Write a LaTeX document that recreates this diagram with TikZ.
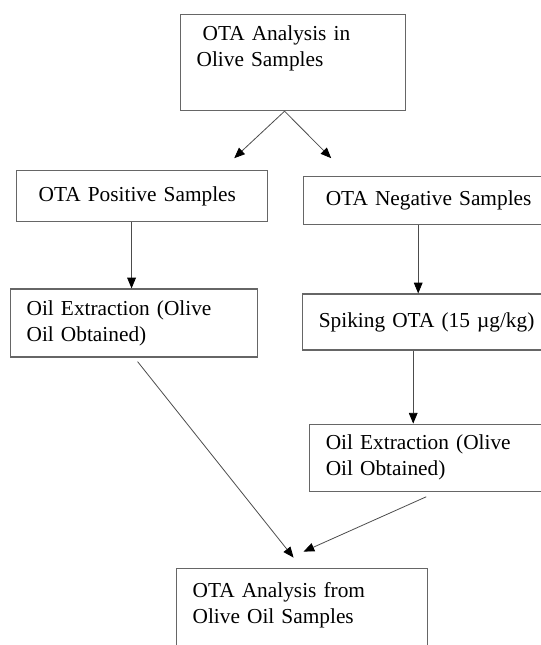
\documentclass[tikz,border=0pt]{standalone}
\usepackage{fontspec}
\setmainfont{Liberation Serif}
\usetikzlibrary{positioning,arrows.meta}

\begin{document}
\begin{tikzpicture}[
      block/.style = {rectangle, draw=black!60, line width=0.9pt,
                      align=left, inner xsep=12pt, inner ysep=0pt,
                      font=\fontsize{16pt}{19.5pt}\selectfont},
      arrow/.style = {-{Triangle[length=8pt,width=6.5pt,color=black]},
                      draw=black!70, line width=0.6pt},
      node distance=.5cm
    ]
    \useasboundingbox (0,0) rectangle (405.75pt,-483.75pt);

    % Nodes
    \node[block, anchor=north west, text width=144.75pt,
          text height=19.5pt, text depth=52.5pt]
          (analysis) at (135pt,-10.5pt) {\hspace*{4.5pt}OTA Analysis in\\Olive Samples};
    \node[block, below right=44.25pt and -123pt of analysis.south west,
          text width=164.25pt, minimum height=38.25pt]
          (positive) {\hspace*{4.5pt}OTA Positive Samples};
    \node[block, below right=4.5pt and 26.25pt of positive.north east,
          text width=190pt, minimum height=36pt]
          (negative) {\hspace*{4.5pt}OTA Negative Samples};
    \node[block, below right=49.5pt and -4.5pt of positive.south west,
          text width=161.25pt, minimum height=51pt]
          (extractpos) {Oil Extraction (Olive\\Oil Obtained)};
    \node[block, below right=51pt and -0.75pt of negative.south west,
          text width=190pt, minimum height=42pt]
          (spiking) {Spiking OTA (15 µg/kg)};
    \node[block, below right=54.75pt and 5.25pt of spiking.south west,
          text width=190pt, minimum height=50.25pt]
          (extractneg) {Oil Extraction (Olive\\Oil Obtained)};
    \node[block, below right=157.5pt and 124.5pt of extractpos.south west,
          text width=164.25pt, text height=21.75pt, text depth=67.5pt]
          (oilanalysis) {OTA Analysis from\\Olive Oil Samples};

    % Arrows
    \draw[arrow] ([xshift=-6.4pt]analysis.south) -- ([xshift=-25.5pt,yshift=9pt]positive.north east);
    \draw[arrow] ([xshift=-6.4pt]analysis.south) -- ([xshift=21pt,yshift=13.5pt]negative.north west);
    \draw[arrow] ([xshift=-7.9pt]positive.south) -- ([xshift=-1.9pt]extractpos.north);
    \draw[arrow] ([xshift=86.25pt]negative.south west) -- ([xshift=87pt]spiking.north west);
    \draw[arrow] ([xshift=83.25pt]spiking.south west) -- ([xshift=78pt]extractneg.north west);
    \draw[arrow] ([xshift=2.6pt,yshift=-3pt]extractpos.south) -- ([xshift=-6.4pt,yshift=7.5pt]oilanalysis.north);
    \draw[arrow] ([xshift=87.75pt,yshift=-3.75pt]extractneg.south west) -- ([xshift=1.1pt,yshift=12pt]oilanalysis.north);
  \end{tikzpicture}
\end{document}
